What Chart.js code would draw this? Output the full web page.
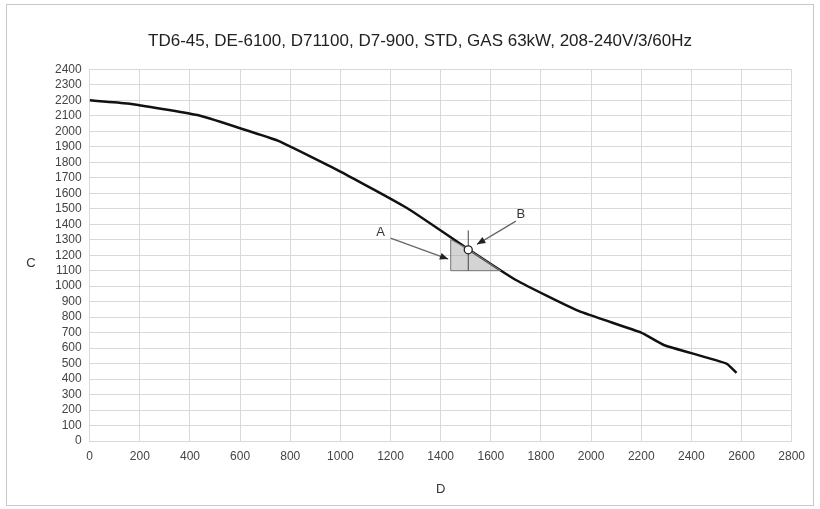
<!DOCTYPE html>
<html>
<head>
<meta charset="utf-8">
<script src="https://cdn.jsdelivr.net/npm/chart.js@4"></script>
<style>
  body { margin: 0; background: #fff; }
  #wrap { position: absolute; left: 6px; top: 4px; width: 806px; height: 500px; border: 1px solid #c8c8c8; }
</style>
</head>
<body>
<div id="wrap"><canvas id="myChart"></canvas></div>
<script>
// curve
var flowX = [0, 150, 430, 600, 750, 1000, 1270, 1500, 1700, 1950, 2200, 2290, 2540, 2580];
var headY = [2200, 2180, 2105, 2020, 1940, 1740, 1500, 1250, 1040, 840, 700, 620, 500, 440];
// shaded operating area and marks
var areaX = [1440, 1440, 1640, 1500];
var areaY = [1300, 1100, 1100, 1250];
var pointB = [1510, 1235];

var curve = flowX.map(function (x, i) { return { x: x, y: headY[i] }; });
var fontFam = '"Liberation Sans", Arial, sans-serif';

var marks = {
    id: 'marks',
    afterDatasetsDraw: function (chart) {
        var c = chart.ctx, sx = chart.scales.x, sy = chart.scales.y;
        function px(x) { return sx.getPixelForValue(x); }
        function py(y) { return sy.getPixelForValue(y); }
        c.save();
        // shaded triangle
        c.beginPath();
        areaX.forEach(function (x, i) {
            if (i === 0) c.moveTo(px(x), py(areaY[i])); else c.lineTo(px(x), py(areaY[i]));
        });
        c.closePath();
        c.fillStyle = 'rgba(160,160,160,0.45)';
        c.fill();
        c.strokeStyle = '#777';
        c.lineWidth = 1;
        c.stroke();
        // vertical line
        c.beginPath();
        c.moveTo(px(pointB[0]), py(1100));
        c.lineTo(px(pointB[0]), py(1360));
        c.strokeStyle = '#444';
        c.stroke();
        // arrows
        function arrow(x1, y1, x2, y2) {
            var a = px(x1), b = py(y1), e = px(x2), f = py(y2);
            var ang = Math.atan2(f - b, e - a);
            c.beginPath(); c.moveTo(a, b); c.lineTo(e, f);
            c.strokeStyle = '#666'; c.lineWidth = 1.2; c.stroke();
            c.beginPath();
            c.moveTo(e, f);
            c.lineTo(e - 9 * Math.cos(ang - 0.4), f - 9 * Math.sin(ang - 0.4));
            c.lineTo(e - 9 * Math.cos(ang + 0.4), f - 9 * Math.sin(ang + 0.4));
            c.closePath(); c.fillStyle = '#222'; c.fill();
        }
        arrow(1200, 1310, 1430, 1175);
        arrow(1700, 1420, 1545, 1270);
        // circle
        c.beginPath();
        c.arc(px(pointB[0]), py(pointB[1]), 4, 0, Math.PI * 2);
        c.fillStyle = '#fff'; c.fill();
        c.strokeStyle = '#222'; c.lineWidth = 1.3; c.stroke();
        // labels
        c.fillStyle = '#333';
        c.font = '13px ' + fontFam;
        c.textAlign = 'center'; c.textBaseline = 'middle';
        c.fillText('A', px(1160), py(1345));
        c.fillText('B', px(1720), py(1465));
        c.fillText('C', 24, py(1150));
        c.restore();
    }
};

new Chart(document.getElementById('myChart'), {
    type: 'scatter',
    data: {
        datasets: [{
            data: curve,
            showLine: true,
            borderColor: '#111',
            borderWidth: 2.5,
            pointRadius: 0,
            tension: 0.15
        }]
    },
    options: {
        responsive: true,
        maintainAspectRatio: false,
        animation: false,
        layout: { padding: { left: 40, right: 20, top: 10, bottom: 4 } },
        plugins: {
            legend: { display: false },
            tooltip: { enabled: false },
            title: {
                display: true,
                text: 'TD6-45, DE-6100, D71100, D7-900, STD, GAS 63kW, 208-240V/3/60Hz',
                color: '#222',
                font: { family: fontFam, size: 17, weight: 'normal' },
                padding: { top: 16, bottom: 18 }
            }
        },
        scales: {
            x: {
                min: 0, max: 2800,
                ticks: { stepSize: 200, color: '#444', padding: 8, callback: function (v) { return v; }, font: { family: fontFam, size: 12 } },
                grid: { color: '#d9d9d9', drawTicks: false },
                border: { color: '#d9d9d9' },
                title: { display: true, text: 'D', color: '#333', font: { family: fontFam, size: 13 }, padding: { top: 10 } }
            },
            y: {
                min: 0, max: 2400,
                ticks: { stepSize: 100, color: '#444', autoSkip: false, padding: 8, callback: function (v) { return v; }, font: { family: fontFam, size: 12 } },
                grid: { color: '#d9d9d9', drawTicks: false },
                border: { color: '#d9d9d9' }
            }
        }
    },
    plugins: [marks]
});
</script>
</body>
</html>
